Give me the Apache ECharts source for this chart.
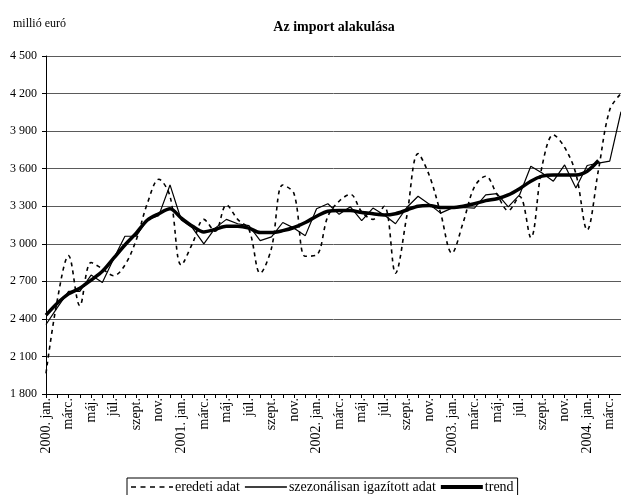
<!DOCTYPE html>
<html>
<head>
<meta charset="utf-8">
<script src="https://cdn.jsdelivr.net/npm/echarts@6/dist/echarts.min.js"></script>
<style>
  html, body { margin: 0; padding: 0; background: #fff; }
  #chart { width: 621px; height: 495px; }
</style>
</head>
<body>
<div id="chart"></div>
<script>
// honapok 2000 jan - 2004 apr
const monthNames = ['jan.', 'febr.', 'márc.', 'ápr.', 'máj.', 'jún.', 'júl.', 'aug.', 'szept.', 'okt.', 'nov.', 'dec.'];
const years = [2000, 2001, 2002, 2003, 2004];
const monthCount = 52;

const eredeti = [
  1965, 2550, 2905, 2505, 2850, 2800, 2745, 2830, 3030, 3325, 3515, 3380,
  2830, 3005, 3195, 3100, 3310, 3195, 3115, 2765, 2965, 3470, 3400, 2900,
  2910, 3220, 3340, 3395, 3255, 3195, 3300, 2765, 3220, 3720, 3545, 3245,
  2925, 3170, 3455, 3540, 3395, 3265, 3380, 3050, 3620, 3870, 3770, 3560,
  3110, 3590, 4070, 4200
];
const szezonalis = [
  2355, 2490, 2620, 2620, 2750, 2690, 2880, 3060, 3060, 3195, 3225, 3470,
  3190, 3125, 3000, 3125, 3195, 3160, 3145, 3025, 3055, 3170, 3125, 3065,
  3280, 3320, 3235, 3295, 3185, 3285, 3230, 3160, 3290, 3380, 3315, 3245,
  3285, 3290, 3285, 3390, 3400, 3295, 3390, 3620, 3565, 3500, 3630, 3445,
  3625, 3645, 3660, 4055
];
const trend = [
  2430, 2525, 2600, 2645, 2710, 2780, 2885, 2990, 3085, 3190, 3240, 3280,
  3205, 3140, 3095, 3115, 3140, 3140, 3125, 3090, 3090, 3105, 3130, 3170,
  3220, 3260, 3265, 3265, 3250, 3240, 3230, 3240, 3270, 3300, 3305, 3290,
  3290, 3300, 3320, 3345, 3360, 3390, 3440, 3500, 3540, 3550, 3550, 3550,
  3580, 3665
];

let categories = [];
for (let i = 0; i < monthCount; i++) {
  let m = i % 12;
  let y = years[Math.floor(i / 12)];
  categories.push(m === 0 ? y + '. ' + monthNames[m] : monthNames[m]);
}

const font = '"Liberation Serif", "DejaVu Serif", serif';

// legend ikonok: 42x10-es doboz, benne a vonal
const iconDashed = 'path://M0,0 M42,10 M0,4.2h5v1.6h-5z M9.5,4.2h5v1.6h-5z M19,4.2h5v1.6h-5z M28.5,4.2h5v1.6h-5z M38,4.2h4v1.6h-4z';
const iconThin = 'path://M0,0 M42,10 M0,4.3h42v1.4h-42z';
const iconThick = 'path://M0,0 M42,10 M0,3h42v4h-42z';

let myChart = echarts.init(document.getElementById('chart'));
const option = {
  animation: false,
  textStyle: { fontFamily: font, color: '#000' },
  title: [
    {
      text: 'Az import alakulása',
      left: 329,
      top: 15,
      textAlign: 'center',
      textStyle: { fontFamily: font, fontSize: 14, fontWeight: 'bold', color: '#000' }
    },
    {
      text: 'millió euró',
      left: 8,
      top: 13,
      textStyle: { fontFamily: font, fontSize: 12, fontWeight: 'normal', color: '#000' }
    }
  ],
  legend: {
    left: 127,
    top: 478,
    padding: [2, 4, 2, 4],
    borderColor: '#000',
    borderWidth: 1,
    itemWidth: 42,
    itemHeight: 10,
    itemGap: 5,
    textStyle: { fontFamily: font, fontSize: 14, color: '#000', padding: [0, 0, 0, -3] },
    data: [
      { name: 'eredeti adat', icon: iconDashed },
      { name: 'szezonálisan igazított adat', icon: iconThin },
      { name: 'trend', icon: iconThick }
    ]
  },
  grid: {
    left: 46,
    right: 0,
    top: 56,
    bottom: 101
  },
  xAxis: {
    type: 'category',
    data: categories,
    boundaryGap: false,
    axisLine: { lineStyle: { color: '#000', width: 1 } },
    axisTick: { interval: 0, length: 4, lineStyle: { color: '#000' } },
    axisLabel: {
      interval: 1,
      rotate: 90,
      margin: 4,
      padding: [8, 0, 0, 0],
      fontFamily: font,
      fontSize: 14,
      color: '#000'
    },
    splitLine: { show: false }
  },
  yAxis: {
    type: 'value',
    min: 1800,
    max: 4500,
    interval: 300,
    axisLine: { show: true, lineStyle: { color: '#000', width: 1 } },
    axisTick: { show: true, length: 4, inside: false, lineStyle: { color: '#000' } },
    axisLabel: {
      margin: 9,
      fontFamily: font,
      fontSize: 12,
      color: '#000',
      formatter: function (v) {
        return String(v).replace(/\B(?=(\d{3})+(?!\d))/g, ' ');
      }
    },
    splitLine: { lineStyle: { color: '#5a5a5a', width: 1 } }
  },
  series: [
    {
      name: 'eredeti adat',
      type: 'line',
      data: eredeti,
      symbol: 'none',
      smooth: 0.35,
      lineStyle: { color: '#000', width: 1.6, type: [4, 4] },
      itemStyle: { color: '#000' },
      z: 2
    },
    {
      name: 'szezonálisan igazított adat',
      type: 'line',
      data: szezonalis,
      symbol: 'none',
      lineStyle: { color: '#000', width: 1.2 },
      itemStyle: { color: '#000' },
      z: 3
    },
    {
      name: 'trend',
      type: 'line',
      data: trend,
      symbol: 'none',
      smooth: 0.3,
      lineStyle: { color: '#000', width: 3.5 },
      itemStyle: { color: '#000' },
      z: 4
    }
  ]
};
myChart.setOption(option);
window.addEventListener('resize', () => {
  myChart.resize();
});
</script>
</body>
</html>
